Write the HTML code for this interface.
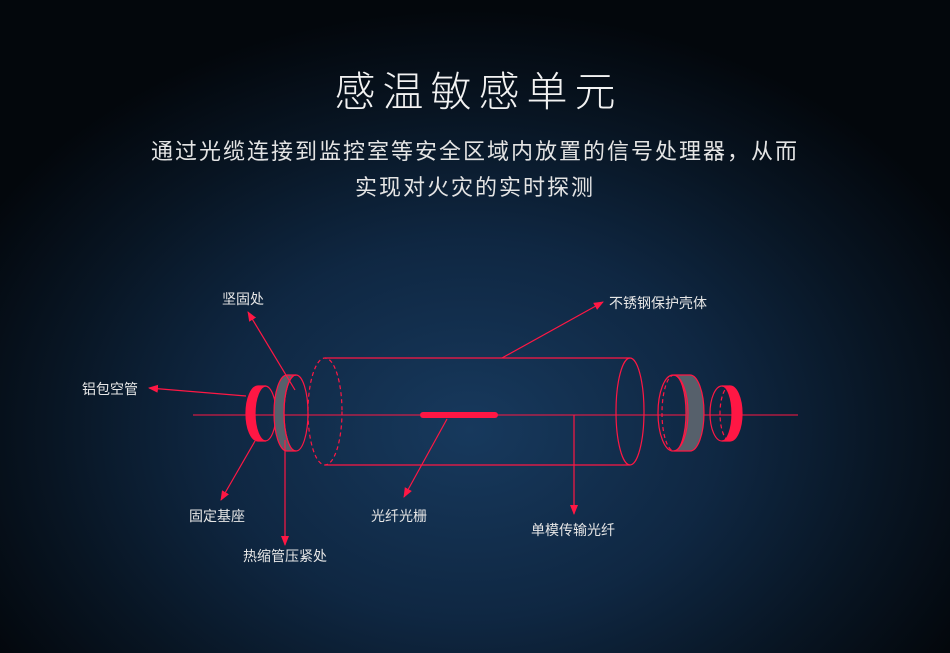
<!DOCTYPE html>
<html><head><meta charset="utf-8"><style>
html,body{margin:0;padding:0;}
body{width:950px;height:653px;overflow:hidden;background:radial-gradient(ellipse 560px 420px at 470px 430px,#17395d 0%,#0f2742 45%,#081523 75%,#03070c 100%);font-family:"Liberation Sans","Noto Sans CJK SC",sans-serif;position:relative;}
.t{position:absolute;left:0;width:950px;text-align:center;color:#f2f2f2;}
.lbl{font-family:"Liberation Sans","Noto Sans CJK SC",sans-serif;font-size:14px;fill:#e6e6e6;}
</style></head><body>
<div class="t" style="top:58px;font-size:41px;letter-spacing:7px;font-weight:300;padding-left:7px;box-sizing:border-box;">感温敏感单元</div>
<div class="t" style="top:134px;font-size:22px;letter-spacing:2px;color:#e4e4e4;line-height:36px;">通过光缆连接到监控室等安全区域内放置的信号处理器，从而<br>实现对火灾的实时探测</div>
<svg width="950" height="653" style="position:absolute;left:0;top:0" xmlns="http://www.w3.org/2000/svg">
<defs><marker id="a" markerWidth="10" markerHeight="10" refX="9" refY="5" orient="auto" markerUnits="userSpaceOnUse"><path d="M0,1 L10,5 L0,9 z" fill="#ff1744"/></marker></defs>
<g stroke="#ff1744" fill="none" stroke-width="1.2">
<line x1="193" y1="415" x2="798" y2="415" stroke-width="1"/>
<line x1="325" y1="358" x2="630" y2="358"/>
<line x1="325" y1="465" x2="630" y2="465"/>
<ellipse cx="325" cy="411.5" rx="17" ry="53.5" stroke-dasharray="4,3"/>
<ellipse cx="630" cy="411.5" rx="14" ry="53.5"/>
<line x1="423" y1="415" x2="495" y2="415" stroke-width="6" stroke-linecap="round"/>
<path d="M258,386 A12,27.5 0 0 0 258,441 L266,441 A11,27.5 0 0 1 266,386 Z" fill="#ff1744"/>
<ellipse cx="265" cy="413.5" rx="11" ry="27.5"/>
<path d="M287,375 A13,38 0 0 0 287,451 L296,451 A12,38 0 0 1 296,375 Z" fill="#56606b" stroke="#ff1744"/>
<ellipse cx="296" cy="413" rx="12" ry="38"/>
<path d="M674,375 L690,375 A14,38 0 0 1 690,451 L674,451 A12,38 0 0 0 674,375 Z" fill="#56606b"/>
<ellipse cx="673" cy="413" rx="15" ry="38"/>
<path d="M674,375 A12,38 0 0 0 674,451" stroke-dasharray="4,3"/>
<path d="M722,386 L730,386 A12,27.5 0 0 1 730,441 L722,441 A10,27.5 0 0 0 722,386 Z" fill="#ff1744"/>
<ellipse cx="722" cy="413.5" rx="12" ry="27.5"/>
<path d="M730,386 A10,27.5 0 0 0 730,441" stroke-dasharray="4,3"/>
<line x1="295" y1="390" x2="248" y2="312" marker-end="url(#a)"/>
<line x1="246" y1="396" x2="149" y2="388" marker-end="url(#a)"/>
<line x1="255" y1="441" x2="221" y2="500" marker-end="url(#a)"/>
<line x1="285" y1="440" x2="285" y2="545" marker-end="url(#a)"/>
<line x1="447" y1="419" x2="404" y2="497" marker-end="url(#a)"/>
<line x1="502" y1="358" x2="603" y2="302" marker-end="url(#a)"/>
<line x1="574" y1="415" x2="574" y2="514" marker-end="url(#a)"/>
</g>
<text class="lbl" x="222" y="304">坚固处</text>
<text class="lbl" x="82" y="394">铝包空管</text>
<text class="lbl" x="189" y="521">固定基座</text>
<text class="lbl" x="243" y="561">热缩管压紧处</text>
<text class="lbl" x="371" y="521">光纤光栅</text>
<text class="lbl" x="609" y="308">不锈钢保护壳体</text>
<text class="lbl" x="531" y="535">单模传输光纤</text>
</svg>
</body></html>
